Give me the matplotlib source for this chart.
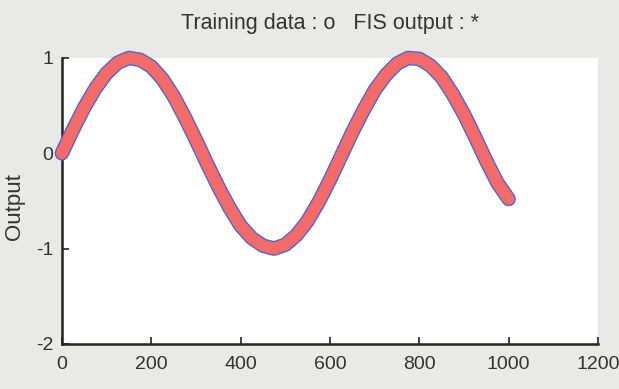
import matplotlib
matplotlib.use("Agg")
import matplotlib.pyplot as plt

# Data
x_values = [0, 25, 50, 75, 100, 125, 150, 175, 200, 225, 250, 275, 300, 325, 350,
            375, 400, 425, 450, 475, 500, 525, 550, 575, 600, 625, 650, 675, 700,
            725, 750, 775, 800, 825, 850, 875, 900, 925, 950, 975, 1000]
training_output = [0.0, 0.25, 0.48, 0.68, 0.84, 0.95, 1.0, 0.98, 0.91, 0.78, 0.60,
                   0.38, 0.14, -0.11, -0.35, -0.57, -0.76, -0.89, -0.97, -1.0, -0.96,
                   -0.86, -0.71, -0.51, -0.28, -0.03, 0.22, 0.45, 0.66, 0.82, 0.94,
                   1.0, 0.99, 0.92, 0.80, 0.62, 0.41, 0.17, -0.08, -0.31, -0.48]
fis_output = list(training_output)

x_ticks = [0, 200, 400, 600, 800, 1000, 1200]
y_ticks = [-2, -1, 0, 1]
title_text = "Training data : o   FIS output : *"
y_label = "Output"

plt.rcParams['font.family'] = ['Liberation Sans', 'DejaVu Sans']
plt.rcParams['axes.unicode_minus'] = False
text_color = '#333333'

fig = plt.figure(figsize=(6.19, 3.89), dpi=100, facecolor='#e9e9e7')
ax = fig.add_axes([0.100, 0.116, 0.866, 0.735])
ax.set_facecolor('white')

ax.plot(x_values, training_output, color='#5a62c8', lw=10.5, solid_capstyle='round',
        solid_joinstyle='round', clip_on=False, zorder=3)
ax.plot(x_values, fis_output, color='#f26b6b', lw=8.5, solid_capstyle='round',
        solid_joinstyle='round', clip_on=False, zorder=4)

ax.set_xlim(0, 1200)
ax.set_ylim(-2, 1)
ax.set_xticks(x_ticks)
ax.set_yticks(y_ticks)
ax.tick_params(direction='in', length=5, width=1.2, colors='#222222',
               labelcolor=text_color, labelsize=14)
ax.tick_params(axis='x', pad=9)
ax.tick_params(axis='y', pad=6)

for s in ['top', 'right']:
    ax.spines[s].set_visible(False)
for s in ['left', 'bottom']:
    ax.spines[s].set_linewidth(1.8)
    ax.spines[s].set_color('#222222')

ax.set_title(title_text, fontsize=15.5, color=text_color, pad=21)
ax.set_ylabel(y_label, fontsize=16, color=text_color)
ax.yaxis.set_label_coords(-0.068, 0.48)

fig.savefig('out.png', dpi=100, facecolor=fig.get_facecolor())
